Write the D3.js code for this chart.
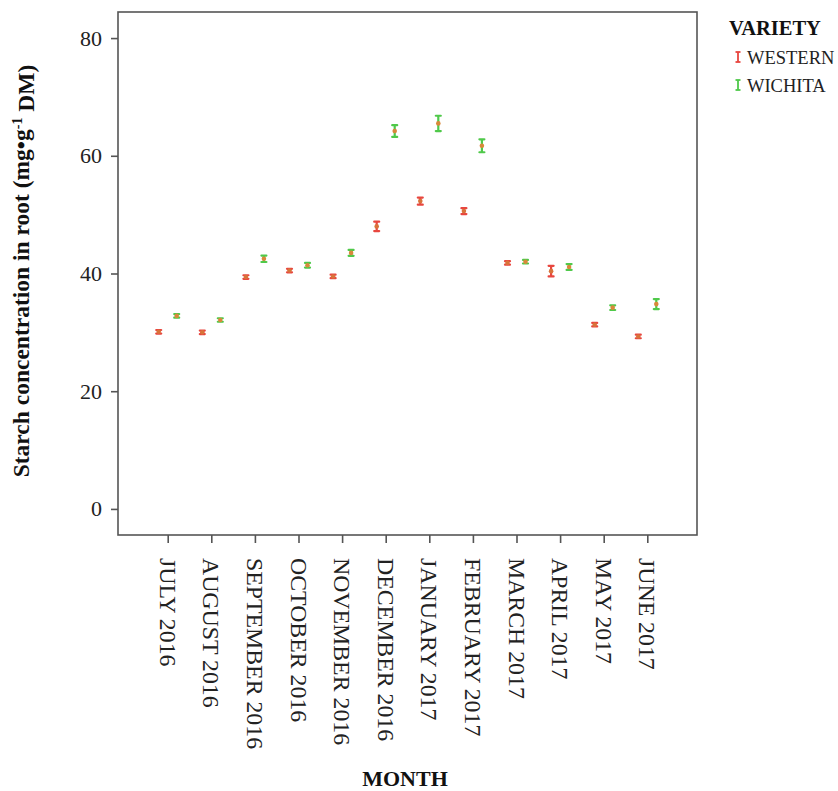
<!DOCTYPE html>
<html><head><meta charset="utf-8">
<script src="https://cdn.jsdelivr.net/npm/d3@7/dist/d3.min.js"></script>
<style>body{margin:0;background:#fff}svg{display:block}</style>
</head><body><svg id="c" width="838" height="791"></svg>
<script>
const months = ["JULY 2016","AUGUST 2016","SEPTEMBER 2016","OCTOBER 2016","NOVEMBER 2016","DECEMBER 2016","JANUARY 2017","FEBRUARY 2017","MARCH 2017","APRIL 2017","MAY 2017","JUNE 2017"];
const varieties = ["WESTERN","WICHITA"];
const westernMean = [30.1,30.0,39.4,40.5,39.5,48.0,52.3,50.6,41.8,40.4,31.3,29.3];
const westernErr  = [0.3,0.3,0.3,0.3,0.3,0.8,0.6,0.5,0.3,0.9,0.3,0.3];
const wichitaMean = [32.8,32.1,42.5,41.4,43.5,64.2,65.5,61.7,42.0,41.1,34.2,34.8];
const wichitaErr  = [0.3,0.3,0.55,0.4,0.5,1.0,1.3,1.1,0.3,0.5,0.4,0.85];
const yTicks = [0,20,40,60,80];
const barColors = {WESTERN:"#e8463f", WICHITA:"#4fc94a"};
const dotColor = {WESTERN:"#d8733a", WICHITA:"#d8893a"};

const svg = d3.select("#c");
const font = "'Liberation Serif','Times New Roman',serif";
const L=118, R=697, T=12, B=535;
const x = d3.scalePoint().domain(months).range([L,R]).padding(1.14);
const y = d3.scaleLinear().domain([-4.43,84.43]).range([B,T]);
const off = d3.scalePoint().domain(varieties).range([-9,9]);

// frame
svg.append("rect").attr("x",L).attr("y",T).attr("width",R-L).attr("height",B-T)
  .attr("fill","none").attr("stroke","#555").attr("stroke-width",1.6);

// y axis
const ya = svg.append("g").attr("transform",`translate(${L},0)`)
  .call(d3.axisLeft(y).tickValues(yTicks).tickSize(7).tickPadding(9));
ya.select(".domain").remove();
ya.selectAll("line").attr("stroke","#555").attr("stroke-width",1.6);
ya.selectAll("text").attr("font-family",font).attr("font-size",22).attr("fill","#222");

// x axis
const xa = svg.append("g").attr("transform",`translate(0,${B})`)
  .call(d3.axisBottom(x).tickSize(8).tickFormat(""));
xa.select(".domain").remove();
xa.selectAll("line").attr("stroke","#555").attr("stroke-width",1.6);
svg.append("g").selectAll("text").data(months).join("text")
  .attr("transform",d=>`translate(${x(d)},558) rotate(90)`)
  .attr("text-anchor","start").attr("dy","0.33em")
  .attr("font-family",font).attr("font-size",23.8).attr("fill","#222")
  .text(d=>d);

// data
const series = [
  {name:"WESTERN", mean:westernMean, err:westernErr},
  {name:"WICHITA", mean:wichitaMean, err:wichitaErr}
];
series.forEach(s=>{
  const g = svg.append("g");
  const rows = months.map((m,i)=>({m, v:s.mean[i], e:s.err[i]}));
  const cx = d=>x(d.m)+off(s.name);
  g.selectAll("line.bar").data(rows).join("line")
    .attr("x1",cx).attr("x2",cx)
    .attr("y1",d=>y(d.v-d.e)).attr("y2",d=>y(d.v+d.e))
    .attr("stroke",barColors[s.name]).attr("stroke-width",2.2);
  ["lo","hi"].forEach(k=>{
    g.selectAll("line.cap"+k).data(rows).join("line")
      .attr("x1",d=>cx(d)-2.5).attr("x2",d=>cx(d)+2.5)
      .attr("y1",d=>y(k==="lo"?d.v-d.e:d.v+d.e)).attr("y2",d=>y(k==="lo"?d.v-d.e:d.v+d.e))
      .attr("stroke",barColors[s.name]).attr("stroke-width",2.2).attr("stroke-linecap","round");
  });
  g.selectAll("circle").data(rows).join("circle")
    .attr("cx",cx).attr("cy",d=>y(d.v)).attr("r",2.3)
    .attr("fill",dotColor[s.name]);
});

// axis titles
svg.append("text").attr("transform",`translate(29,271) rotate(-90)`)
  .attr("text-anchor","middle").attr("font-family",font).attr("font-weight","bold")
  .attr("font-size",23.5).attr("fill","#111")
  .call(t=>{
    t.append("tspan").text("Starch concentration in root (mg•g");
    t.append("tspan").attr("dy","-0.5em").attr("font-size",14).text("-1");
    t.append("tspan").attr("dy","0.5em").text(" DM)");
  });
svg.append("text").attr("x",405).attr("y",786).attr("text-anchor","middle")
  .attr("font-family",font).attr("font-weight","bold").attr("font-size",22).attr("fill","#111")
  .text("MONTH");

// legend
svg.append("text").attr("x",729).attr("y",35).attr("font-family",font)
  .attr("font-weight","bold").attr("font-size",20.5).attr("fill","#111").text("VARIETY");
const lg = svg.append("g").selectAll("g").data(varieties).join("g")
  .attr("transform",(d,i)=>`translate(738,${57+i*28})`);
lg.append("line").attr("x1",0).attr("x2",0).attr("y1",-5).attr("y2",5)
  .attr("stroke",d=>barColors[d]).attr("stroke-width",1.8);
lg.append("line").attr("x1",-2.5).attr("x2",2.5).attr("y1",-5).attr("y2",-5)
  .attr("stroke",d=>barColors[d]).attr("stroke-width",1.8);
lg.append("line").attr("x1",-2.5).attr("x2",2.5).attr("y1",5).attr("y2",5)
  .attr("stroke",d=>barColors[d]).attr("stroke-width",1.8);
lg.append("text").attr("x",9).attr("y",7).attr("font-family",font).attr("font-size",18.5)
  .attr("fill","#222").text(d=>d);
</script></body></html>
